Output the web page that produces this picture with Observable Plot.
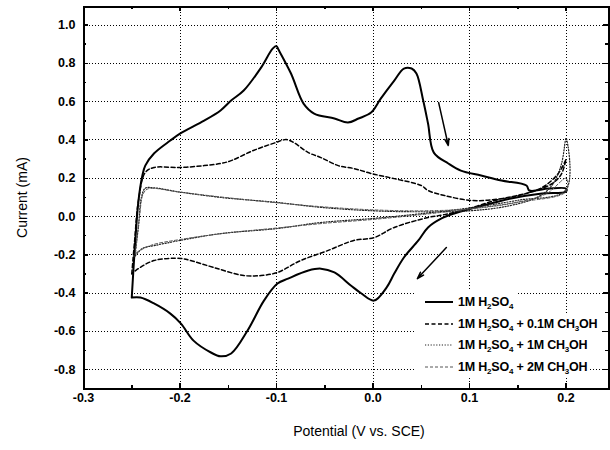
<!DOCTYPE html>
<html>
<head>
<meta charset="utf-8">
<script src="https://cdn.jsdelivr.net/npm/d3@7"></script>
<script src="https://cdn.jsdelivr.net/npm/@observablehq/plot@0.6"></script>
<style>
  html, body { margin: 0; padding: 0; background: white; }
  #wrap { position: relative; width: 610px; height: 450px; font-family: "Liberation Sans", Arial, sans-serif; }
  #legend { position: absolute; left: 415px; top: 291px; display: flex; flex-direction: column; align-items: flex-start; }
  .row { height: 21.7px; display: flex; align-items: center; background: white; padding-right: 3px; }
  .row svg { margin-left: 10px; margin-right: 5px; }
  .row span { font-weight: bold; font-size: 12.5px; color: black; white-space: nowrap; letter-spacing: -0.2px; }
  .row sub { font-size: 8px; vertical-align: -3px; line-height: 0; }
</style>
</head>
<body>
<div id="wrap"></div>
<script>
// ---- Data ----
const seriesNames = ["1M H2SO4", "1M H2SO4 + 0.1M CH3OH", "1M H2SO4 + 1M CH3OH", "1M H2SO4 + 2M CH3OH"];
const legendLabels = [
  "1M H<sub>2</sub>SO<sub>4</sub>",
  "1M H<sub>2</sub>SO<sub>4</sub> + 0.1M CH<sub>3</sub>OH",
  "1M H<sub>2</sub>SO<sub>4</sub> + 1M CH<sub>3</sub>OH",
  "1M H<sub>2</sub>SO<sub>4</sub> + 2M CH<sub>3</sub>OH"
];

// 1M H2SO4 (solid)
const h2so4X = [-0.250,-0.247,-0.243,-0.239,-0.236,-0.227,-0.210,-0.200,-0.175,-0.158,-0.147,-0.134,-0.116,-0.104,-0.100,-0.098,-0.085,-0.072,-0.061,-0.040,-0.026,-0.015,-0.002,0.008,0.022,0.032,0.040,0.045,0.052,0.057,0.063,0.078,0.091,0.112,0.133,0.159,0.162,0.182,0.200,
  0.200,0.175,0.143,0.126,0.102,0.084,0.071,0.057,0.047,0.032,0.022,0.014,0.001,-0.012,-0.023,-0.040,-0.054,-0.067,-0.088,-0.099,-0.113,-0.130,-0.147,-0.158,-0.168,-0.186,-0.199,-0.210,-0.227,-0.241,-0.250];
const h2so4Y = [-0.423,-0.178,0.084,0.214,0.266,0.329,0.397,0.433,0.501,0.554,0.606,0.658,0.778,0.877,0.890,0.872,0.747,0.590,0.538,0.512,0.491,0.512,0.543,0.616,0.710,0.773,0.773,0.747,0.606,0.486,0.334,0.277,0.240,0.214,0.188,0.162,0.136,0.146,0.146,
  0.130,0.120,0.094,0.073,0.042,0.016,-0.010,-0.057,-0.125,-0.214,-0.298,-0.371,-0.439,-0.402,-0.360,-0.292,-0.272,-0.282,-0.324,-0.350,-0.439,-0.595,-0.715,-0.730,-0.710,-0.648,-0.559,-0.507,-0.454,-0.423,-0.423];

// 1M H2SO4 + 0.1M CH3OH (dashed)
const meoh01X = [-0.250,-0.247,-0.243,-0.236,-0.227,-0.200,-0.175,-0.158,-0.147,-0.124,-0.101,-0.090,-0.082,-0.067,-0.054,-0.036,-0.020,-0.002,0.022,0.050,0.057,0.074,0.102,0.126,0.151,0.175,0.192,0.200,
  0.200,0.195,0.185,0.165,0.145,0.126,0.102,0.074,0.057,0.022,0.001,-0.020,-0.047,-0.075,-0.099,-0.116,-0.134,-0.165,-0.189,-0.199,-0.227,-0.246,-0.250];
const meoh01Y = [-0.300,-0.125,0.084,0.230,0.256,0.256,0.266,0.277,0.292,0.345,0.386,0.402,0.386,0.334,0.308,0.266,0.251,0.225,0.198,0.162,0.136,0.110,0.084,0.089,0.110,0.151,0.225,0.300,
  0.300,0.220,0.170,0.130,0.105,0.084,0.045,0.010,-0.005,-0.057,-0.110,-0.125,-0.178,-0.230,-0.292,-0.308,-0.308,-0.266,-0.230,-0.219,-0.230,-0.282,-0.300];

// 1M H2SO4 + 1M CH3OH (dotted)
const meoh1X = [-0.247,-0.243,-0.240,-0.236,-0.227,-0.200,-0.158,-0.100,-0.054,0.000,0.050,0.100,0.140,0.170,0.185,0.195,0.200,
  0.200,0.150,0.100,0.050,0.000,-0.054,-0.100,-0.158,-0.200,-0.225,-0.239,-0.247];
const meoh1Y = [-0.210,-0.050,0.100,0.148,0.150,0.128,0.100,0.074,0.048,0.030,0.025,0.030,0.055,0.100,0.160,0.270,0.410,
  0.140,0.085,0.045,0.015,-0.010,-0.031,-0.063,-0.089,-0.125,-0.150,-0.167,-0.210];

// 1M H2SO4 + 2M CH3OH (thin dash)
const meoh2X = [-0.246,-0.242,-0.238,-0.233,-0.200,-0.150,-0.100,-0.050,0.000,0.050,0.100,0.150,0.180,0.200,
  0.200,0.150,0.100,0.050,0.000,-0.050,-0.100,-0.150,-0.200,-0.230,-0.246];
const meoh2Y = [-0.190,0.000,0.120,0.145,0.127,0.098,0.072,0.050,0.035,0.030,0.040,0.075,0.120,0.200,
  0.130,0.075,0.040,0.010,-0.015,-0.035,-0.060,-0.085,-0.120,-0.150,-0.190];

// Scan-direction arrows
const arrowX1 = [0.068, 0.076];
const arrowY1 = [0.595, -0.162];
const arrowX2 = [0.078, 0.046];
const arrowY2 = [0.371, -0.324];

// Ticks
const xTicks = [-0.3, -0.2, -0.1, 0.0, 0.1, 0.2];
const xMinorTicks = [-0.25, -0.15, -0.05, 0.05, 0.15];
const yTicks = [-0.8, -0.6, -0.4, -0.2, 0.0, 0.2, 0.4, 0.6, 0.8, 1.0];
const yMinorTicks = [-0.7, -0.5, -0.3, -0.1, 0.1, 0.3, 0.5, 0.7, 0.9];

// ---- Build tables ----
const seriesX = [h2so4X, meoh01X, meoh1X, meoh2X];
const seriesY = [h2so4Y, meoh01Y, meoh1Y, meoh2Y];
const styles = [
  {stroke: "black", strokeWidth: 2, dash: null},
  {stroke: "black", strokeWidth: 1.5, dash: "4,2.5"},
  {stroke: "#222", strokeWidth: 1.2, dash: "1.2,1.6"},
  {stroke: "#555", strokeWidth: 1, dash: "3,2"}
];
const tables = seriesNames.map((name, i) => seriesX[i].map((x, j) => ({series: name, x, y: seriesY[i][j]})));
const arrows = arrowX1.map((x1, i) => ({x1, y1: arrowY1[i], x2: arrowX2[i], y2: arrowY2[i]}));

const W = 610, H = 450, mL = 83, mR = 2, mT = 6, mB = 62;
const PH = H - mT - mB, PW = W - mL - mR;
const fmt = d => d.toFixed(1);
const grid = {stroke: "black", strokeOpacity: 1, strokeWidth: 1, strokeDasharray: "1,2", shapeRendering: "crispEdges"};
const tk = {strokeWidth: 1.5, shapeRendering: "crispEdges"};

const plot = Plot.plot({
  width: W, height: H,
  marginLeft: mL, marginRight: mR, marginTop: mT, marginBottom: mB,
  x: {domain: [-0.3, 0.244], label: null},
  y: {domain: [-0.898, 1.097], label: null},
  style: {fontFamily: "'Liberation Sans', Arial, sans-serif", background: "white", color: "black"},
  marks: [
    Plot.gridX(xTicks, grid),
    Plot.gridY(yTicks, grid),
    ...tables.map((t, i) => Plot.line(t, {x: "x", y: "y", curve: "catmull-rom", stroke: styles[i].stroke, strokeWidth: styles[i].strokeWidth, strokeDasharray: styles[i].dash, strokeLinejoin: "round"})),
    Plot.arrow(arrows, {x1: "x1", y1: "y1", x2: "x2", y2: "y2", stroke: "black", strokeWidth: 1.5, headLength: 7, headAngle: 35}),
    // inward ticks on all four sides
    Plot.tickX(xTicks, {...tk, insetTop: PH - 5}),
    Plot.tickX(xMinorTicks, {...tk, insetTop: PH - 3}),
    Plot.tickX(xTicks, {...tk, insetBottom: PH - 5}),
    Plot.tickX(xMinorTicks, {...tk, insetBottom: PH - 3}),
    Plot.tickY(yTicks, {...tk, insetRight: PW - 5}),
    Plot.tickY(yMinorTicks, {...tk, insetRight: PW - 3}),
    Plot.tickY(yTicks, {...tk, insetLeft: PW - 5}),
    Plot.tickY(yMinorTicks, {...tk, insetLeft: PW - 3}),
    Plot.axisX(xTicks, {tickSize: 0, tickPadding: 5, tickFormat: fmt, fontSize: 12.5, fontWeight: "bold", label: null}),
    Plot.axisY(yTicks, {tickSize: 0, tickPadding: 8, tickFormat: fmt, fontSize: 12.5, fontWeight: "bold", label: null}),
    Plot.frame({stroke: "black", strokeWidth: 2, shapeRendering: "crispEdges"}),
    Plot.text(["Potential (V vs. SCE)"], {frameAnchor: "bottom", dy: 47, dx: 13, fontSize: 14, textAnchor: "middle"}),
    Plot.text(["Current (mA)"], {frameAnchor: "left", dx: -61, rotate: -90, fontSize: 14, textAnchor: "middle"})
  ]
});

const wrap = document.getElementById("wrap");
wrap.appendChild(plot);

// Legend overlay
const legend = document.createElement("div");
legend.id = "legend";
seriesNames.forEach((name, i) => {
  const row = document.createElement("div");
  row.className = "row";
  const s = styles[i];
  row.innerHTML = `<svg width="28" height="6"><line x1="0" y1="3" x2="28" y2="3" stroke="${s.stroke}" stroke-width="${s.strokeWidth}" ${s.dash ? `stroke-dasharray="${s.dash}"` : ""}/></svg><span>${legendLabels[i]}</span>`;
  legend.appendChild(row);
});
wrap.appendChild(legend);
</script>
</body>
</html>
